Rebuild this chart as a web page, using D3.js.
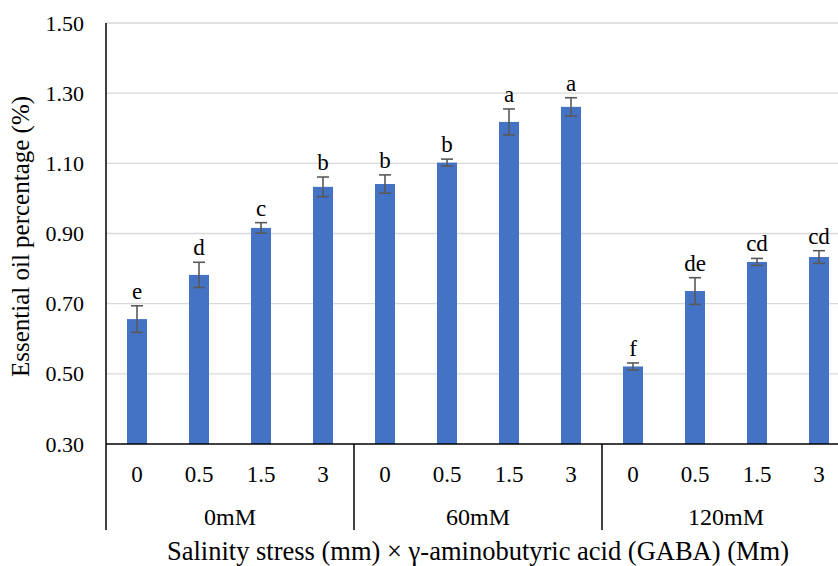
<!DOCTYPE html>
<html>
<head>
<meta charset="utf-8">
<script src="https://cdn.jsdelivr.net/npm/d3@7"></script>
<style>
  body { margin: 0; background: #fff; }
  svg { display: block; font-family: "Liberation Serif", "Times New Roman", serif; }
</style>
</head>
<body>
<svg id="chart" width="838" height="566"></svg>
<script>
// salinity groups and GABA doses
var salinity = ["0mM", "60mM", "120mM"];
var gaba = ["0", "0.5", "1.5", "3"];

// essential oil % per bar, in order salinity x gaba
var oilValues = [0.656, 0.782, 0.916, 1.033, 1.041, 1.102, 1.218, 1.261, 0.521, 0.736, 0.819, 0.833];
var oilErrors = [0.038, 0.036, 0.015, 0.028, 0.026, 0.010, 0.037, 0.026, 0.010, 0.038, 0.010, 0.018];
var letters = ["e", "d", "c", "b", "b", "b", "a", "a", "f", "de", "cd", "cd"];

var yTicks = [0.30, 0.50, 0.70, 0.90, 1.10, 1.30, 1.50];

var svg = d3.select("#chart");
var plotLeft = 106, plotRight = 850, plotTop = 23, plotBottom = 444, axisEnd = 530;
var serif = "Liberation Serif";

var keys = [];
salinity.forEach(function(s) {
  gaba.forEach(function(g) { keys.push(s + "|" + g); });
});

var rows = keys.map(function(k, i) {
  return { key: k, dose: k.split("|")[1], value: oilValues[i], err: oilErrors[i], letter: letters[i] };
});

var x = d3.scaleBand().domain(keys).range([plotLeft, plotRight]).paddingInner(0.677).paddingOuter(0.3385);
var y = d3.scaleLinear().domain([0.30, 1.50]).range([plotBottom, plotTop]);
var step = x.step();

// gridlines
svg.append("g").selectAll("line").data(yTicks.slice(1)).join("line")
  .attr("x1", plotLeft).attr("x2", plotRight)
  .attr("y1", function(d) { return y(d); }).attr("y2", function(d) { return y(d); })
  .attr("stroke", "#d9d9d9").attr("stroke-width", 1.3);

// y axis labels
var yAxis = svg.append("g").attr("transform", "translate(" + plotLeft + ",0)")
  .call(d3.axisLeft(y).tickValues(yTicks).tickFormat(d3.format(".2f")).tickSize(0).tickPadding(22));
yAxis.select(".domain").remove();
yAxis.selectAll("text").attr("font-family", serif).attr("font-size", 22).attr("fill", "#000");

// bars
svg.append("g").selectAll("rect").data(rows).join("rect")
  .attr("x", function(d) { return x(d.key); })
  .attr("y", function(d) { return y(d.value); })
  .attr("width", x.bandwidth())
  .attr("height", function(d) { return plotBottom - y(d.value); })
  .attr("fill", "#4472c4");

// error bars
var eb = svg.append("g").attr("stroke", "#595959").attr("stroke-width", 1.6);
rows.forEach(function(d) {
  var cx = x(d.key) + x.bandwidth() / 2;
  var y1 = y(d.value + d.err), y2 = y(d.value - d.err);
  eb.append("line").attr("x1", cx).attr("x2", cx).attr("y1", y1).attr("y2", y2);
  eb.append("line").attr("x1", cx - 6).attr("x2", cx + 6).attr("y1", y1).attr("y2", y1);
  eb.append("line").attr("x1", cx - 6).attr("x2", cx + 6).attr("y1", y2).attr("y2", y2);
});

// significance letters
svg.append("g").selectAll("text").data(rows).join("text")
  .attr("x", function(d) { return x(d.key) + x.bandwidth() / 2; })
  .attr("y", function(d) { return y(d.value + d.err) - 7; })
  .attr("text-anchor", "middle").attr("font-family", serif).attr("font-size", 23).attr("fill", "#000")
  .text(function(d) { return d.letter; });

// axes lines
svg.append("line").attr("x1", plotLeft).attr("x2", plotRight).attr("y1", plotBottom).attr("y2", plotBottom)
  .attr("stroke", "#000").attr("stroke-width", 1.5);
svg.append("line").attr("x1", plotLeft).attr("x2", plotLeft).attr("y1", plotTop).attr("y2", axisEnd)
  .attr("stroke", "#000").attr("stroke-width", 1.5);

// dose labels
svg.append("g").selectAll("text").data(rows).join("text")
  .attr("x", function(d) { return x(d.key) + x.bandwidth() / 2; })
  .attr("y", 482)
  .attr("text-anchor", "middle").attr("font-family", serif).attr("font-size", 23).attr("fill", "#000")
  .text(function(d) { return d.dose; });

// group separators and labels
salinity.forEach(function(s, i) {
  var gx = x(s + "|" + gaba[0]) - (step - x.bandwidth()) / 2;
  var gw = step * gaba.length;
  if (i > 0) {
    svg.append("line").attr("x1", gx).attr("x2", gx).attr("y1", plotBottom).attr("y2", axisEnd)
      .attr("stroke", "#000").attr("stroke-width", 1.5);
  }
  svg.append("text").attr("x", gx + gw / 2).attr("y", 525)
    .attr("text-anchor", "middle").attr("font-family", serif).attr("font-size", 24).attr("fill", "#000").text(s);
});

// axis titles
svg.append("text").attr("x", (plotLeft + plotRight) / 2).attr("y", 560)
  .attr("text-anchor", "middle").attr("font-family", serif).attr("font-size", 26.5).attr("fill", "#000")
  .text("Salinity stress (mm) \u00d7 \u03b3-aminobutyric acid (GABA) (Mm)");

svg.append("text").attr("transform", "translate(29," + ((plotTop + plotBottom) / 2 + 3) + ") rotate(-90)")
  .attr("text-anchor", "middle").attr("font-family", serif).attr("font-size", 25).attr("fill", "#000")
  .text("Essential oil percentage (%)");
</script>
</body>
</html>
